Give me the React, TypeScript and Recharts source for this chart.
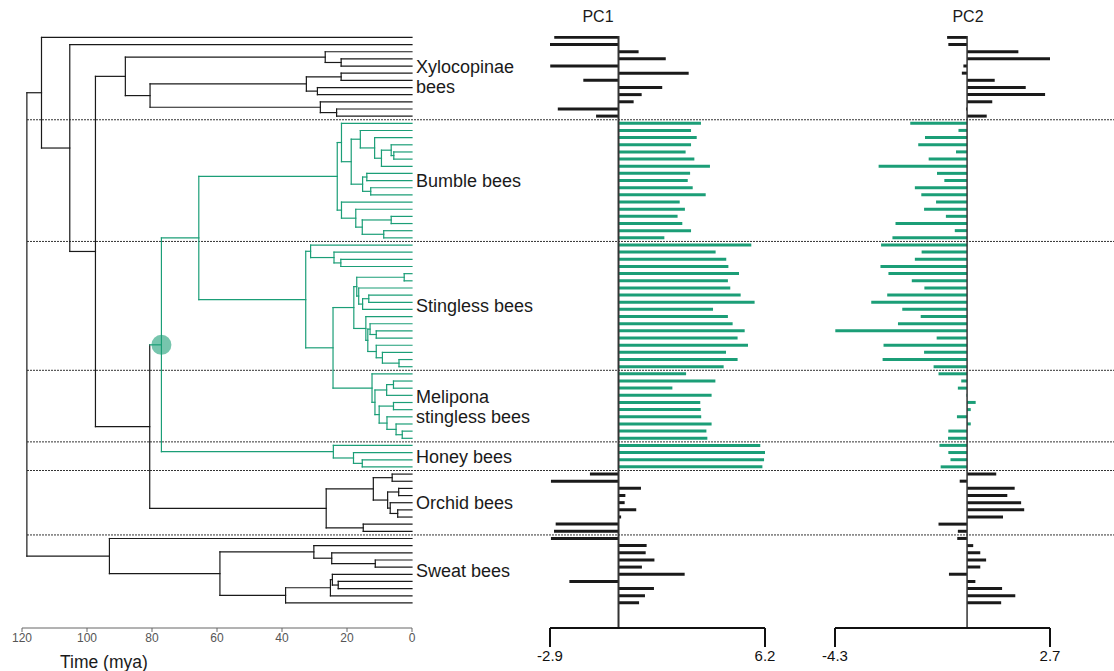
import React from "react";
import {
  ComposedChart,
  BarChart,
  Bar,
  Cell,
  XAxis,
  YAxis,
  ReferenceLine,
  ReferenceDot,
} from "recharts";

const FONT = "'Liberation Sans', Arial, Helvetica, sans-serif";
const GREEN = "#1b9e77";
const INK = "#1a1a1a";

// Clades in Newick form. Tips are "t", internal labels are node ages (mya),
// "*" marks the corbiculate crown node (drawn green, with the dot).
const XYLOCOPINAE = "((t,(t,t)21.8)26.7,(((t,t)21.8,(t,t)29.1)32.5,(t,(t,t)23.2)28.2)80.6)88.2";
const BUMBLE =
  "((t,((t,(t,((t,(t,t)5.6)6.4,t)9.4)11.5)15.9,((t,t)13.9,(t,t)12.7)15.2)18.7)21.7,(t,(t,((t,t)6.4,(t,t)8.7)15.3)17.3)21.7)23";
const MELIPONA = "(t,(((t,t)5.7,t)7.8,((t,t)5.7,(t,(t,(t,t)3)4.9)7.7)10.1)11.4)12.3";
const STINGLESS = `((t,(t,(t,t)21.9)24)31.2,((((t,t)2.4,(t,((t,t)13.3,t)15.2)16.4)17,(t,((t,(t,t)11)12.9,(t,(t,(t,t)4)9.1)11)13.6)14.2)17.9,${MELIPONA})24.3)32.7`;
const HONEY = "(t,(t,(t,t)15.3)18)24.2";
const ORCHID = "(((t,t)6.1,((t,t)4.1,(t,(t,t)4.4)6.7)7.5)11.9,(t,t)15)26.4";
const SWEAT = "(t,((t,(t,(t,t)11.3)24.7)30.2,(((t,(t,t)22.7)24.5,t)25.1,t)38.9)59.1)93.1";
const TREE = `((t,(t,(${XYLOCOPINAE},(((${BUMBLE},${STINGLESS})65.6,${HONEY})77.1*,${ORCHID})80.7)97.4)105.3)114,${SWEAT})118.5`;

// tip groups, top to bottom, with the number of tips in each
const GROUP_LABELS = [["Xylocopinae", "bees"], ["Bumble bees"], ["Stingless bees"], ["Melipona", "stingless bees"], ["Honey bees"], ["Orchid bees"], ["Sweat bees"]];
const GROUP_SIZES = [12, 17, 18, 10, 4, 9, 10];

// one value per tip, top to bottom
const PC1 = [
  -2.72, -2.9, 0.85, 2.0, -2.89, 2.97, -1.49, 1.85, 0.98, 0.64, -2.57, -0.95,
  3.49, 3.07, 3.31, 3.07, 2.84, 3.21, 3.87, 3.03, 2.93, 3.14, 3.69, 2.59, 2.81, 2.5, 2.7, 3.07, 1.94,
  5.62, 4.11, 4.56, 4.65, 5.1, 4.63, 4.73, 5.17, 5.76, 4.0, 4.63, 4.83, 5.34, 5.04, 5.48, 4.55, 5.04, 4.45,
  2.86, 4.1, 2.28, 3.94, 3.46, 3.48, 3.5, 3.94, 3.72, 3.76,
  6.0, 6.2, 6.16, 6.09,
  -1.21, -2.86, 0.95, 0.29, 0.26, 0.75, 0.11, -2.66, -2.73,
  -2.86, 1.19, 1.15, 1.52, 0.99, 2.8, -2.08, 1.5, 1.12, 0.87,
];
const PC2 = [
  -0.65, -0.61, 1.67, 2.7, -0.12, -0.17, 0.9, 1.91, 2.54, 0.82, -0.03, 0.64,
  -1.85, -0.28, -1.37, -1.59, -0.36, -1.25, -2.88, -0.98, -0.74, -1.7, -1.49, -1.01, -1.4, -0.69, -2.33, -0.4, -2.43,
  -2.8, -1.48, -1.7, -2.82, -2.56, -1.8, -1.39, -2.6, -3.12, -2.11, -1.51, -2.25, -4.29, -0.99, -2.72, -1.4, -2.75, -1.09,
  -0.93, -0.19, -0.3, -0.02, 0.28, 0.12, -0.33, 0.12, -0.61, -0.62,
  -0.9, -0.61, -0.54, -0.86,
  0.95, -0.24, 1.55, 1.31, 1.76, 1.86, 1.17, -0.93, -0.3,
  -0.32, 0.2, 0.43, 0.62, 0.43, -0.59, 0.27, 1.14, 1.57, 1.11,
];

const TIME_TICKS = [120, 100, 80, 60, 40, 20, 0];
const PC1_TICKS = [-2.9, 6.2];
const PC2_TICKS = [-4.3, 2.7];

const H = 671;
const PLOT_TOP = 36;
const AXIS_H = 43;
const Y_DOMAIN: [number, number] = [-0.2, 82.5];

type TreeNode = { age: number; y: number; mark: boolean; kids: TreeNode[] };

function parseNewick(src: string): TreeNode {
  let pos = 0;
  let tip = 0;
  const read = (): TreeNode => {
    if (src[pos] !== "(") {
      pos++;
      return { age: 0, y: tip++, mark: false, kids: [] };
    }
    pos++;
    const kids = [read()];
    while (src[pos] === ",") {
      pos++;
      kids.push(read());
    }
    pos++;
    const m = /^([\d.]+)(\*?)/.exec(src.slice(pos))!;
    pos += m[0].length;
    return { age: +m[1], y: (kids[0].y + kids[kids.length - 1].y) / 2, mark: m[2] === "*", kids };
  };
  return read();
}

type Seg = { x1: number; y1: number; x2: number; y2: number; green: boolean };
const root = parseNewick(TREE);
const segs: Seg[] = [];
const tipGreen: boolean[] = [];
let crown: TreeNode | null = null;

function walk(n: TreeNode, green: boolean) {
  if (!n.kids.length) {
    tipGreen[n.y] = green;
    return;
  }
  if (n.mark) crown = n;
  segs.push({ x1: n.age, y1: n.kids[0].y, x2: n.age, y2: n.kids[n.kids.length - 1].y, green });
  for (const k of n.kids) {
    const g = green || k.mark;
    segs.push({ x1: n.age, y1: k.y, x2: k.age, y2: k.y, green: g });
    walk(k, g);
  }
}
walk(root, root.mark);

const ROWS = PC1.map((v, i) => ({ i, pc1: v, pc2: PC2[i], green: !!tipGreen[i] }));

let acc = 0;
const GROUPS = GROUP_SIZES.map((n, k) => {
  const g = { lines: GROUP_LABELS[k], center: acc + (n - 1) / 2, end: acc + n - 0.5 };
  acc += n;
  return g;
});
const SEPARATORS = GROUPS.slice(0, -1).map((g) => g.end);

function GroupLabel({ cx, cy, lines }: { cx: number; cy: number; lines: string[] }) {
  return (
    <text fontSize={18} fontFamily={FONT} fill={INK}>
      {lines.map((l, k) => (
        <tspan key={k} x={cx + 4} y={cy + (k - (lines.length - 1) / 2) * 20} dy="0.36em">
          {l}
        </tspan>
      ))}
    </text>
  );
}

function PCPanel({ left, width, plotLeft, plotRight, dataKey, ticks, zeroWidth }: {
  left: number; width: number; plotLeft: number; plotRight: number; dataKey: string; ticks: number[]; zeroWidth: number;
}) {
  return (
    <div style={{ position: "absolute", left, top: 0 }}>
      <BarChart
        layout="vertical"
        width={width}
        height={H}
        data={ROWS}
        margin={{ top: PLOT_TOP, right: width - (plotRight - left), bottom: 0, left: plotLeft - left }}
      >
        <XAxis
          type="number"
          domain={[ticks[0], ticks[1]]}
          ticks={ticks}
          interval={0}
          allowDataOverflow
          height={AXIS_H}
          tickSize={19}
          tickMargin={3}
          axisLine={{ stroke: "#111", strokeWidth: 2 }}
          tickLine={{ stroke: "#111", strokeWidth: 2 }}
          tick={{ fontSize: 15, fill: "#111", fontFamily: FONT }}
        />
        {/* vertical layout: the category axis already runs top to bottom */}
        <YAxis type="number" dataKey="i" domain={Y_DOMAIN} hide allowDataOverflow />
        <Bar dataKey={dataKey} barSize={3} isAnimationActive={false}>
          {ROWS.map((r) => (
            <Cell key={r.i} fill={r.green ? GREEN : INK} />
          ))}
        </Bar>
        <ReferenceLine x={0} stroke="#333" strokeWidth={zeroWidth} />
      </BarChart>
    </div>
  );
}

export default function App() {
  return (
    <div style={{ position: "absolute", left: 0, top: 0, width: 1114, height: H, background: "#fff", fontFamily: FONT }}>
      {/* group separators across the whole figure */}
      <div style={{ position: "absolute", left: 0, top: 0 }}>
        <ComposedChart width={1114} height={H} data={ROWS} margin={{ top: PLOT_TOP, right: 0, bottom: AXIS_H, left: 27 }}>
          <XAxis type="number" domain={[0, 1]} hide allowDataOverflow />
          <YAxis type="number" dataKey="i" domain={Y_DOMAIN} reversed hide allowDataOverflow />
          {SEPARATORS.map((y) => (
            <ReferenceLine key={y} y={y} stroke="#333" strokeWidth={1} strokeDasharray="2 1" />
          ))}
        </ComposedChart>
      </div>

      {/* time tree */}
      <div style={{ position: "absolute", left: 0, top: 0 }}>
        <ComposedChart
          layout="vertical"
          width={545}
          height={H}
          data={ROWS}
          margin={{ top: PLOT_TOP, right: 133, bottom: 0, left: 22 }}
        >
          <XAxis
            type="number"
            domain={[0, 120]}
            reversed
            ticks={TIME_TICKS}
            interval={0}
            allowDataOverflow
            height={AXIS_H}
            tickSize={4}
            tickMargin={1}
            axisLine={{ stroke: "#666" }}
            tickLine={{ stroke: "#666" }}
            tick={{ fontSize: 12, fill: "#555", fontFamily: FONT }}
          />
          <YAxis type="number" dataKey="i" domain={Y_DOMAIN} hide allowDataOverflow />
          {segs.map((s, k) => (
            <ReferenceLine
              key={k}
              segment={[{ x: s.x1, y: s.y1 }, { x: s.x2, y: s.y2 }]}
              stroke={s.green ? GREEN : INK}
              strokeWidth={1.2}
              strokeLinecap="square"
              ifOverflow="visible"
            />
          ))}
          {crown && (
            <ReferenceDot
              x={(crown as TreeNode).age}
              y={(crown as TreeNode).y}
              r={10}
              fill={GREEN}
              fillOpacity={0.6}
              stroke="none"
              ifOverflow="visible"
            />
          )}
          {GROUPS.map((g) => (
            <ReferenceDot
              key={g.lines.join(" ")}
              x={0}
              y={g.center}
              r={0}
              ifOverflow="visible"
              shape={(p: any) => <GroupLabel cx={p.cx} cy={p.cy} lines={g.lines} />}
            />
          ))}
        </ComposedChart>
      </div>
      <div style={{ position: "absolute", left: 60, top: 652, fontSize: 17.5, color: INK, whiteSpace: "nowrap" }}>
        Time (mya)
      </div>

      <PCPanel left={500} width={290} plotLeft={550} plotRight={765} dataKey="pc1" ticks={PC1_TICKS} zeroWidth={2} />
      <PCPanel left={790} width={324} plotLeft={835} plotRight={1050} dataKey="pc2" ticks={PC2_TICKS} zeroWidth={1.5} />

      <div style={{ position: "absolute", left: 568, width: 60, top: 8, textAlign: "center", fontSize: 16, color: INK }}>PC1</div>
      <div style={{ position: "absolute", left: 938, width: 60, top: 8, textAlign: "center", fontSize: 16, color: INK }}>PC2</div>
    </div>
  );
}
